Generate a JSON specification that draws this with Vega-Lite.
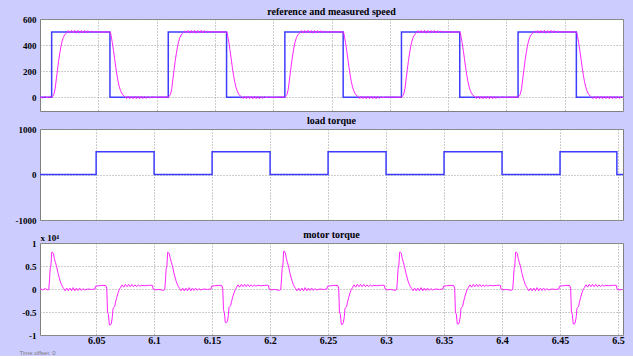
{
"$schema": "https://vega.github.io/schema/vega-lite/v6.json",
"background": "#ccccff",
"padding": {"left": 14, "top": 6, "right": 8, "bottom": 0},
"spacing": 3,
"config": {
  "font": "Liberation Serif",
  "view": {"stroke": "#808080", "strokeWidth": 1, "fill": "white"},
  "axis": {"domain": false, "ticks": false, "labelFont": "Liberation Serif", "labelFontWeight": "bold", "labelFontSize": 9, "labelColor": "#000000", "gridColor": "#9a9a9a", "gridDash": [1, 2], "gridOpacity": 1, "labelPadding": 4},
  "title": {"font": "Liberation Serif", "fontWeight": "bold", "fontSize": 10, "color": "#000000", "offset": 2}
},
"datasets": {
"speedRef": [{"t":6.0,"v":0},{"t":6.01,"v":500},{"t":6.06,"v":0},{"t":6.11,"v":500},{"t":6.16,"v":0},{"t":6.21,"v":500},{"t":6.26,"v":0},{"t":6.31,"v":500},{"t":6.36,"v":0},{"t":6.41,"v":500},{"t":6.46,"v":0},{"t":6.51,"v":0}],
"load": [{"t":6.0,"v":0},{"t":6.05,"v":500},{"t":6.1,"v":0},{"t":6.15,"v":500},{"t":6.2,"v":0},{"t":6.25,"v":500},{"t":6.3,"v":0},{"t":6.35,"v":500},{"t":6.4,"v":0},{"t":6.45,"v":500},{"t":6.499,"v":0},{"t":6.51,"v":0}],
"speedMeas": [
{"t":6.0,"v":3},{"t":6.002,"v":-6},{"t":6.004,"v":5},{"t":6.006,"v":-4},{"t":6.008,"v":2},
{"t":6.01,"v":1},{"t":6.0106,"v":4},{"t":6.0112,"v":12},{"t":6.012,"v":25},{"t":6.013,"v":65},{"t":6.014,"v":140},{"t":6.015,"v":210},{"t":6.016,"v":280},{"t":6.017,"v":340},{"t":6.018,"v":392},{"t":6.019,"v":430},{"t":6.02,"v":458},{"t":6.021,"v":476},{"t":6.022,"v":488},{"t":6.023,"v":495},{"t":6.0242,"v":510},{"t":6.0256,"v":492},{"t":6.027,"v":512},{"t":6.0284,"v":493},{"t":6.0298,"v":513},{"t":6.0312,"v":491},{"t":6.0326,"v":512},{"t":6.034,"v":492},{"t":6.0354,"v":511},{"t":6.0368,"v":493},{"t":6.0382,"v":512},{"t":6.0396,"v":492},{"t":6.041,"v":510},{"t":6.0424,"v":494},{"t":6.0438,"v":508},{"t":6.0455,"v":498},{"t":6.048,"v":503},{"t":6.052,"v":499},{"t":6.056,"v":501},{"t":6.06,"v":500},{"t":6.0605,"v":495},{"t":6.061,"v":470},{"t":6.062,"v":420},{"t":6.063,"v":360},{"t":6.064,"v":295},{"t":6.065,"v":230},{"t":6.066,"v":170},{"t":6.067,"v":120},{"t":6.068,"v":80},{"t":6.069,"v":52},{"t":6.07,"v":32},{"t":6.071,"v":18},{"t":6.072,"v":9},{"t":6.073,"v":3},{"t":6.0742,"v":-10},{"t":6.0756,"v":8},{"t":6.077,"v":-12},{"t":6.0784,"v":7},{"t":6.0798,"v":-12},{"t":6.0812,"v":8},{"t":6.0826,"v":-11},{"t":6.084,"v":7},{"t":6.0854,"v":-12},{"t":6.0868,"v":8},{"t":6.0882,"v":-11},{"t":6.0896,"v":7},{"t":6.091,"v":-10},{"t":6.0924,"v":5},{"t":6.094,"v":-5},{"t":6.096,"v":2},{"t":6.099,"v":-1},{"t":6.103,"v":1},{"t":6.107,"v":0},
{"t":6.11,"v":1},{"t":6.1106,"v":4},{"t":6.1112,"v":12},{"t":6.112,"v":25},{"t":6.113,"v":65},{"t":6.114,"v":140},{"t":6.115,"v":210},{"t":6.116,"v":280},{"t":6.117,"v":340},{"t":6.118,"v":392},{"t":6.119,"v":430},{"t":6.12,"v":458},{"t":6.121,"v":476},{"t":6.122,"v":488},{"t":6.123,"v":495},{"t":6.1242,"v":509},{"t":6.1256,"v":493},{"t":6.127,"v":511},{"t":6.1284,"v":491},{"t":6.1298,"v":512},{"t":6.1312,"v":492},{"t":6.1326,"v":513},{"t":6.134,"v":491},{"t":6.1354,"v":511},{"t":6.1368,"v":492},{"t":6.1382,"v":512},{"t":6.1396,"v":493},{"t":6.141,"v":511},{"t":6.1424,"v":493},{"t":6.1438,"v":507},{"t":6.1455,"v":499},{"t":6.148,"v":502},{"t":6.152,"v":500},{"t":6.156,"v":501},{"t":6.16,"v":500},{"t":6.1605,"v":494},{"t":6.161,"v":468},{"t":6.162,"v":418},{"t":6.163,"v":358},{"t":6.164,"v":293},{"t":6.165,"v":228},{"t":6.166,"v":168},{"t":6.167,"v":118},{"t":6.168,"v":79},{"t":6.169,"v":51},{"t":6.17,"v":31},{"t":6.171,"v":17},{"t":6.172,"v":8},{"t":6.173,"v":2},{"t":6.1742,"v":-11},{"t":6.1756,"v":7},{"t":6.177,"v":-12},{"t":6.1784,"v":8},{"t":6.1798,"v":-11},{"t":6.1812,"v":7},{"t":6.1826,"v":-12},{"t":6.184,"v":8},{"t":6.1854,"v":-11},{"t":6.1868,"v":7},{"t":6.1882,"v":-12},{"t":6.1896,"v":6},{"t":6.191,"v":-9},{"t":6.1924,"v":5},{"t":6.194,"v":-3},{"t":6.196,"v":1},{"t":6.199,"v":-1},{"t":6.203,"v":0},{"t":6.207,"v":1},
{"t":6.21,"v":1},{"t":6.2106,"v":4},{"t":6.2112,"v":12},{"t":6.212,"v":25},{"t":6.213,"v":65},{"t":6.214,"v":140},{"t":6.215,"v":210},{"t":6.216,"v":280},{"t":6.217,"v":340},{"t":6.218,"v":392},{"t":6.219,"v":430},{"t":6.22,"v":458},{"t":6.221,"v":476},{"t":6.222,"v":488},{"t":6.223,"v":495},{"t":6.2242,"v":511},{"t":6.2256,"v":492},{"t":6.227,"v":512},{"t":6.2284,"v":493},{"t":6.2298,"v":513},{"t":6.2312,"v":492},{"t":6.2326,"v":511},{"t":6.234,"v":491},{"t":6.2354,"v":512},{"t":6.2368,"v":492},{"t":6.2382,"v":511},{"t":6.2396,"v":493},{"t":6.241,"v":510},{"t":6.2424,"v":493},{"t":6.2438,"v":508},{"t":6.2455,"v":498},{"t":6.248,"v":502},{"t":6.252,"v":500},{"t":6.256,"v":502},{"t":6.26,"v":500},{"t":6.2605,"v":495},{"t":6.261,"v":470},{"t":6.262,"v":420},{"t":6.263,"v":360},{"t":6.264,"v":295},{"t":6.265,"v":230},{"t":6.266,"v":170},{"t":6.267,"v":120},{"t":6.268,"v":80},{"t":6.269,"v":52},{"t":6.27,"v":32},{"t":6.271,"v":18},{"t":6.272,"v":9},{"t":6.273,"v":3},{"t":6.2742,"v":-10},{"t":6.2756,"v":8},{"t":6.277,"v":-11},{"t":6.2784,"v":7},{"t":6.2798,"v":-12},{"t":6.2812,"v":8},{"t":6.2826,"v":-12},{"t":6.284,"v":7},{"t":6.2854,"v":-11},{"t":6.2868,"v":8},{"t":6.2882,"v":-12},{"t":6.2896,"v":7},{"t":6.291,"v":-9},{"t":6.2924,"v":4},{"t":6.294,"v":-4},{"t":6.296,"v":1},{"t":6.299,"v":0},{"t":6.303,"v":1},{"t":6.307,"v":-1},
{"t":6.31,"v":1},{"t":6.3106,"v":4},{"t":6.3112,"v":12},{"t":6.312,"v":25},{"t":6.313,"v":65},{"t":6.314,"v":140},{"t":6.315,"v":210},{"t":6.316,"v":280},{"t":6.317,"v":340},{"t":6.318,"v":392},{"t":6.319,"v":430},{"t":6.32,"v":458},{"t":6.321,"v":476},{"t":6.322,"v":488},{"t":6.323,"v":495},{"t":6.3242,"v":510},{"t":6.3256,"v":492},{"t":6.327,"v":512},{"t":6.3284,"v":493},{"t":6.3298,"v":513},{"t":6.3312,"v":491},{"t":6.3326,"v":512},{"t":6.334,"v":492},{"t":6.3354,"v":511},{"t":6.3368,"v":493},{"t":6.3382,"v":512},{"t":6.3396,"v":492},{"t":6.341,"v":510},{"t":6.3424,"v":494},{"t":6.3438,"v":508},{"t":6.3455,"v":498},{"t":6.348,"v":503},{"t":6.352,"v":499},{"t":6.356,"v":501},{"t":6.36,"v":500},{"t":6.3605,"v":495},{"t":6.361,"v":470},{"t":6.362,"v":420},{"t":6.363,"v":360},{"t":6.364,"v":295},{"t":6.365,"v":230},{"t":6.366,"v":170},{"t":6.367,"v":120},{"t":6.368,"v":80},{"t":6.369,"v":52},{"t":6.37,"v":32},{"t":6.371,"v":18},{"t":6.372,"v":9},{"t":6.373,"v":3},{"t":6.3742,"v":-10},{"t":6.3756,"v":8},{"t":6.377,"v":-12},{"t":6.3784,"v":7},{"t":6.3798,"v":-12},{"t":6.3812,"v":8},{"t":6.3826,"v":-11},{"t":6.384,"v":7},{"t":6.3854,"v":-12},{"t":6.3868,"v":8},{"t":6.3882,"v":-11},{"t":6.3896,"v":7},{"t":6.391,"v":-10},{"t":6.3924,"v":5},{"t":6.394,"v":-5},{"t":6.396,"v":2},{"t":6.399,"v":-1},{"t":6.403,"v":1},{"t":6.407,"v":0},
{"t":6.41,"v":1},{"t":6.4106,"v":4},{"t":6.4112,"v":12},{"t":6.412,"v":25},{"t":6.413,"v":65},{"t":6.414,"v":140},{"t":6.415,"v":210},{"t":6.416,"v":280},{"t":6.417,"v":340},{"t":6.418,"v":392},{"t":6.419,"v":430},{"t":6.42,"v":458},{"t":6.421,"v":476},{"t":6.422,"v":488},{"t":6.423,"v":495},{"t":6.4242,"v":509},{"t":6.4256,"v":493},{"t":6.427,"v":511},{"t":6.4284,"v":491},{"t":6.4298,"v":512},{"t":6.4312,"v":492},{"t":6.4326,"v":513},{"t":6.434,"v":491},{"t":6.4354,"v":511},{"t":6.4368,"v":492},{"t":6.4382,"v":512},{"t":6.4396,"v":493},{"t":6.441,"v":511},{"t":6.4424,"v":493},{"t":6.4438,"v":507},{"t":6.4455,"v":499},{"t":6.448,"v":502},{"t":6.452,"v":500},{"t":6.456,"v":501},{"t":6.46,"v":500},{"t":6.4605,"v":494},{"t":6.461,"v":468},{"t":6.462,"v":418},{"t":6.463,"v":358},{"t":6.464,"v":293},{"t":6.465,"v":228},{"t":6.466,"v":168},{"t":6.467,"v":118},{"t":6.468,"v":79},{"t":6.469,"v":51},{"t":6.47,"v":31},{"t":6.471,"v":17},{"t":6.472,"v":8},{"t":6.473,"v":2},{"t":6.4742,"v":-11},{"t":6.4756,"v":7},{"t":6.477,"v":-12},{"t":6.4784,"v":8},{"t":6.4798,"v":-11},{"t":6.4812,"v":7},{"t":6.4826,"v":-12},{"t":6.484,"v":8},{"t":6.4854,"v":-11},{"t":6.4868,"v":7},{"t":6.4882,"v":-12},{"t":6.4896,"v":7},{"t":6.491,"v":-11},{"t":6.4924,"v":7},{"t":6.494,"v":-10},{"t":6.4955,"v":6},{"t":6.497,"v":-9},{"t":6.4985,"v":6},{"t":6.5,"v":-5},{"t":6.503,"v":0}
],
"torque": [
{"t":6.0,"v":0.01},{"t":6.002,"v":0.01},{"t":6.004,"v":-0.02},{"t":6.006,"v":0.01},{"t":6.008,"v":-0.02},
{"t":6.0092,"v":-0.01},{"t":6.0098,"v":0.2},{"t":6.0104,"v":0.45},{"t":6.011,"v":0.5},{"t":6.0117,"v":0.8},{"t":6.0124,"v":0.8},{"t":6.0132,"v":0.77},{"t":6.014,"v":0.66},{"t":6.015,"v":0.57},{"t":6.016,"v":0.48},{"t":6.017,"v":0.36},{"t":6.018,"v":0.26},{"t":6.019,"v":0.17},{"t":6.02,"v":0.1},{"t":6.021,"v":0.05},{"t":6.022,"v":0.01},{"t":6.0232,"v":-0.04},{"t":6.0246,"v":0.02},{"t":6.026,"v":-0.04},{"t":6.0274,"v":0.02},{"t":6.0288,"v":-0.04},{"t":6.0302,"v":0.03},{"t":6.0316,"v":-0.04},{"t":6.033,"v":0.02},{"t":6.0344,"v":-0.03},{"t":6.0358,"v":0.02},{"t":6.0372,"v":-0.03},{"t":6.0386,"v":0.01},{"t":6.04,"v":-0.02},{"t":6.043,"v":0.0},{"t":6.046,"v":-0.01},{"t":6.049,"v":0.0},{"t":6.0495,"v":0.06},{"t":6.052,"v":0.07},{"t":6.056,"v":0.08},{"t":6.0585,"v":0.07},{"t":6.0592,"v":0.0},{"t":6.0598,"v":-0.5},{"t":6.0606,"v":-0.55},{"t":6.0614,"v":-0.78},{"t":6.0624,"v":-0.78},{"t":6.0632,"v":-0.74},{"t":6.064,"v":-0.6},{"t":6.0646,"v":-0.42},{"t":6.066,"v":-0.38},{"t":6.0668,"v":-0.28},{"t":6.0678,"v":-0.18},{"t":6.069,"v":-0.08},{"t":6.07,"v":-0.01},{"t":6.0712,"v":0.04},{"t":6.0724,"v":0.09},{"t":6.0738,"v":0.04},{"t":6.0752,"v":0.1},{"t":6.0766,"v":0.05},{"t":6.078,"v":0.1},{"t":6.0794,"v":0.05},{"t":6.0808,"v":0.1},{"t":6.0822,"v":0.05},{"t":6.0836,"v":0.09},{"t":6.085,"v":0.05},{"t":6.0864,"v":0.09},{"t":6.0878,"v":0.06},{"t":6.0892,"v":0.08},{"t":6.092,"v":0.07},{"t":6.095,"v":0.08},{"t":6.0985,"v":0.08},{"t":6.0992,"v":0.0},{"t":6.1,"v":-0.02},{"t":6.104,"v":-0.01},{"t":6.108,"v":-0.03},
{"t":6.1092,"v":-0.01},{"t":6.1098,"v":0.2},{"t":6.1104,"v":0.45},{"t":6.111,"v":0.5},{"t":6.1117,"v":0.8},{"t":6.1124,"v":0.79},{"t":6.1132,"v":0.76},{"t":6.114,"v":0.66},{"t":6.115,"v":0.57},{"t":6.116,"v":0.48},{"t":6.117,"v":0.36},{"t":6.118,"v":0.26},{"t":6.119,"v":0.17},{"t":6.12,"v":0.1},{"t":6.121,"v":0.05},{"t":6.122,"v":0.01},{"t":6.1232,"v":-0.04},{"t":6.1246,"v":0.02},{"t":6.126,"v":-0.04},{"t":6.1274,"v":0.02},{"t":6.1288,"v":-0.04},{"t":6.1302,"v":0.03},{"t":6.1316,"v":-0.04},{"t":6.133,"v":0.02},{"t":6.1344,"v":-0.03},{"t":6.1358,"v":0.02},{"t":6.1372,"v":-0.03},{"t":6.1386,"v":0.01},{"t":6.14,"v":-0.02},{"t":6.143,"v":0.0},{"t":6.146,"v":-0.01},{"t":6.149,"v":0.0},{"t":6.1495,"v":0.06},{"t":6.152,"v":0.07},{"t":6.156,"v":0.08},{"t":6.1585,"v":0.07},{"t":6.1592,"v":0.0},{"t":6.1598,"v":-0.45},{"t":6.1606,"v":-0.52},{"t":6.1614,"v":-0.73},{"t":6.1624,"v":-0.73},{"t":6.1632,"v":-0.7},{"t":6.164,"v":-0.58},{"t":6.1646,"v":-0.4},{"t":6.166,"v":-0.36},{"t":6.1668,"v":-0.27},{"t":6.1678,"v":-0.17},{"t":6.169,"v":-0.08},{"t":6.17,"v":-0.01},{"t":6.1712,"v":0.04},{"t":6.1724,"v":0.09},{"t":6.1738,"v":0.04},{"t":6.1752,"v":0.1},{"t":6.1766,"v":0.05},{"t":6.178,"v":0.1},{"t":6.1794,"v":0.05},{"t":6.1808,"v":0.1},{"t":6.1822,"v":0.05},{"t":6.1836,"v":0.09},{"t":6.185,"v":0.05},{"t":6.1864,"v":0.09},{"t":6.1878,"v":0.06},{"t":6.1892,"v":0.08},{"t":6.192,"v":0.07},{"t":6.195,"v":0.08},{"t":6.1985,"v":0.08},{"t":6.1992,"v":0.0},{"t":6.2,"v":-0.02},{"t":6.204,"v":-0.01},{"t":6.208,"v":-0.03},
{"t":6.2092,"v":-0.01},{"t":6.2098,"v":0.2},{"t":6.2104,"v":0.45},{"t":6.211,"v":0.5},{"t":6.2117,"v":0.82},{"t":6.2124,"v":0.82},{"t":6.2132,"v":0.78},{"t":6.214,"v":0.67},{"t":6.215,"v":0.57},{"t":6.216,"v":0.48},{"t":6.217,"v":0.36},{"t":6.218,"v":0.26},{"t":6.219,"v":0.17},{"t":6.22,"v":0.1},{"t":6.221,"v":0.05},{"t":6.222,"v":0.01},{"t":6.2232,"v":-0.04},{"t":6.2246,"v":0.02},{"t":6.226,"v":-0.04},{"t":6.2274,"v":0.02},{"t":6.2288,"v":-0.04},{"t":6.2302,"v":0.03},{"t":6.2316,"v":-0.04},{"t":6.233,"v":0.02},{"t":6.2344,"v":-0.03},{"t":6.2358,"v":0.02},{"t":6.2372,"v":-0.03},{"t":6.2386,"v":0.01},{"t":6.24,"v":-0.02},{"t":6.243,"v":0.0},{"t":6.246,"v":-0.01},{"t":6.249,"v":0.0},{"t":6.2495,"v":0.06},{"t":6.252,"v":0.07},{"t":6.256,"v":0.08},{"t":6.2585,"v":0.07},{"t":6.2592,"v":0.0},{"t":6.2598,"v":-0.5},{"t":6.2606,"v":-0.55},{"t":6.2614,"v":-0.77},{"t":6.2624,"v":-0.77},{"t":6.2632,"v":-0.73},{"t":6.264,"v":-0.6},{"t":6.2646,"v":-0.42},{"t":6.266,"v":-0.38},{"t":6.2668,"v":-0.28},{"t":6.2678,"v":-0.18},{"t":6.269,"v":-0.08},{"t":6.27,"v":-0.01},{"t":6.2712,"v":0.04},{"t":6.2724,"v":0.09},{"t":6.2738,"v":0.04},{"t":6.2752,"v":0.1},{"t":6.2766,"v":0.05},{"t":6.278,"v":0.1},{"t":6.2794,"v":0.05},{"t":6.2808,"v":0.1},{"t":6.2822,"v":0.05},{"t":6.2836,"v":0.09},{"t":6.285,"v":0.05},{"t":6.2864,"v":0.09},{"t":6.2878,"v":0.06},{"t":6.2892,"v":0.08},{"t":6.292,"v":0.07},{"t":6.295,"v":0.08},{"t":6.2985,"v":0.08},{"t":6.2992,"v":0.0},{"t":6.3,"v":-0.02},{"t":6.304,"v":-0.01},{"t":6.308,"v":-0.03},
{"t":6.3092,"v":-0.01},{"t":6.3098,"v":0.2},{"t":6.3104,"v":0.45},{"t":6.311,"v":0.5},{"t":6.3117,"v":0.8},{"t":6.3124,"v":0.8},{"t":6.3132,"v":0.77},{"t":6.314,"v":0.66},{"t":6.315,"v":0.57},{"t":6.316,"v":0.48},{"t":6.317,"v":0.36},{"t":6.318,"v":0.26},{"t":6.319,"v":0.17},{"t":6.32,"v":0.1},{"t":6.321,"v":0.05},{"t":6.322,"v":0.01},{"t":6.3232,"v":-0.04},{"t":6.3246,"v":0.02},{"t":6.326,"v":-0.04},{"t":6.3274,"v":0.02},{"t":6.3288,"v":-0.04},{"t":6.3302,"v":0.03},{"t":6.3316,"v":-0.04},{"t":6.333,"v":0.02},{"t":6.3344,"v":-0.03},{"t":6.3358,"v":0.02},{"t":6.3372,"v":-0.03},{"t":6.3386,"v":0.01},{"t":6.34,"v":-0.02},{"t":6.343,"v":0.0},{"t":6.346,"v":-0.01},{"t":6.349,"v":0.0},{"t":6.3495,"v":0.06},{"t":6.352,"v":0.07},{"t":6.356,"v":0.08},{"t":6.3585,"v":0.07},{"t":6.3592,"v":0.0},{"t":6.3598,"v":-0.5},{"t":6.3606,"v":-0.55},{"t":6.3614,"v":-0.76},{"t":6.3624,"v":-0.76},{"t":6.3632,"v":-0.72},{"t":6.364,"v":-0.6},{"t":6.3646,"v":-0.42},{"t":6.366,"v":-0.38},{"t":6.3668,"v":-0.28},{"t":6.3678,"v":-0.18},{"t":6.369,"v":-0.08},{"t":6.37,"v":-0.01},{"t":6.3712,"v":0.04},{"t":6.3724,"v":0.09},{"t":6.3738,"v":0.04},{"t":6.3752,"v":0.1},{"t":6.3766,"v":0.05},{"t":6.378,"v":0.1},{"t":6.3794,"v":0.05},{"t":6.3808,"v":0.1},{"t":6.3822,"v":0.05},{"t":6.3836,"v":0.09},{"t":6.385,"v":0.05},{"t":6.3864,"v":0.09},{"t":6.3878,"v":0.06},{"t":6.3892,"v":0.08},{"t":6.392,"v":0.07},{"t":6.395,"v":0.08},{"t":6.3985,"v":0.08},{"t":6.3992,"v":0.0},{"t":6.4,"v":-0.02},{"t":6.404,"v":-0.01},{"t":6.408,"v":-0.03},
{"t":6.4092,"v":-0.01},{"t":6.4098,"v":0.2},{"t":6.4104,"v":0.45},{"t":6.411,"v":0.5},{"t":6.4117,"v":0.8},{"t":6.4124,"v":0.8},{"t":6.4132,"v":0.77},{"t":6.414,"v":0.66},{"t":6.415,"v":0.57},{"t":6.416,"v":0.48},{"t":6.417,"v":0.36},{"t":6.418,"v":0.26},{"t":6.419,"v":0.17},{"t":6.42,"v":0.1},{"t":6.421,"v":0.05},{"t":6.422,"v":0.01},{"t":6.4232,"v":-0.04},{"t":6.4246,"v":0.02},{"t":6.426,"v":-0.04},{"t":6.4274,"v":0.02},{"t":6.4288,"v":-0.04},{"t":6.4302,"v":0.03},{"t":6.4316,"v":-0.04},{"t":6.433,"v":0.02},{"t":6.4344,"v":-0.03},{"t":6.4358,"v":0.02},{"t":6.4372,"v":-0.03},{"t":6.4386,"v":0.01},{"t":6.44,"v":-0.02},{"t":6.443,"v":0.0},{"t":6.446,"v":-0.01},{"t":6.449,"v":0.0},{"t":6.4495,"v":0.06},{"t":6.452,"v":0.07},{"t":6.456,"v":0.08},{"t":6.4585,"v":0.07},{"t":6.4592,"v":0.0},{"t":6.4598,"v":-0.5},{"t":6.4606,"v":-0.55},{"t":6.4614,"v":-0.76},{"t":6.4624,"v":-0.76},{"t":6.4632,"v":-0.72},{"t":6.464,"v":-0.6},{"t":6.4646,"v":-0.42},{"t":6.466,"v":-0.38},{"t":6.4668,"v":-0.28},{"t":6.4678,"v":-0.18},{"t":6.469,"v":-0.08},{"t":6.47,"v":-0.01},{"t":6.4712,"v":0.04},{"t":6.4724,"v":0.09},{"t":6.4738,"v":0.04},{"t":6.4752,"v":0.1},{"t":6.4766,"v":0.05},{"t":6.478,"v":0.1},{"t":6.4794,"v":0.05},{"t":6.4808,"v":0.1},{"t":6.4822,"v":0.05},{"t":6.4836,"v":0.09},{"t":6.485,"v":0.05},{"t":6.4864,"v":0.09},{"t":6.4878,"v":0.06},{"t":6.4892,"v":0.08},{"t":6.492,"v":0.07},{"t":6.495,"v":0.08},{"t":6.4985,"v":0.08},{"t":6.4992,"v":0.0},{"t":6.5,"v":-0.02},{"t":6.504,"v":-0.01}
]
},
"vconcat": [
{
  "title": {"text": "reference and measured speed", "offset": -1.5},
  "width": 583, "height": 92,
  "encoding": {
    "x": {"field": "t", "type": "quantitative", "scale": {"domain": [6.0, 6.5], "nice": false, "zero": false}, "axis": {"values": [6.05, 6.1, 6.15, 6.2, 6.25, 6.3, 6.35, 6.4, 6.45, 6.5], "labels": false, "title": null}},
    "y": {"field": "v", "type": "quantitative", "scale": {"domain": [-106, 600], "nice": false, "zero": false}, "axis": {"values": [0, 200, 400, 600], "title": null, "labelExpr": "'' + datum.value"}}
  },
  "layer": [
    {"data": {"name": "speedRef"}, "mark": {"type": "line", "interpolate": "step-after", "color": "#3d3dff", "strokeWidth": 1.5, "clip": true}},
    {"data": {"name": "speedMeas"}, "mark": {"type": "line", "color": "#ff22ff", "strokeWidth": 1, "clip": true}}
  ]
},
{
  "title": {"text": "load torque", "offset": -1},
  "width": 583, "height": 91,
  "data": {"name": "load"},
  "mark": {"type": "line", "interpolate": "step-after", "color": "#3d3dff", "strokeWidth": 1.5, "clip": true},
  "encoding": {
    "x": {"field": "t", "type": "quantitative", "scale": {"domain": [6.0016, 6.5043], "nice": false, "zero": false}, "axis": {"values": [6.05, 6.1, 6.15, 6.2, 6.25, 6.3, 6.35, 6.4, 6.45, 6.5], "labels": false, "title": null}},
    "y": {"field": "v", "type": "quantitative", "scale": {"domain": [-1000, 1000], "nice": false, "zero": false}, "axis": {"values": [-1000, 0, 1000], "title": null, "labelExpr": "'' + datum.value"}}
  }
},
{
  "title": {"text": "motor torque", "offset": -6.5},
  "width": 583, "height": 92,
  "data": {"name": "torque"},
  "mark": {"type": "line", "color": "#ff22ff", "strokeWidth": 1, "clip": true},
  "encoding": {
    "x": {"field": "t", "type": "quantitative", "scale": {"domain": [6.0016, 6.5043], "nice": false, "zero": false}, "axis": {"values": [6.05, 6.1, 6.15, 6.2, 6.25, 6.3, 6.35, 6.4, 6.45, 6.5], "labelFontSize": 10, "labelPadding": 0, "labelExpr": "'' + datum.value", "title": "Time offset:  0", "titleFont": "Liberation Sans", "titleFontSize": 6, "titleFontWeight": "normal", "titleColor": "#7a7a7a", "titleAlign": "left", "titleX": -21, "titleY": 17, "titleBaseline": "middle"}},
    "y": {"field": "v", "type": "quantitative", "scale": {"domain": [-1, 1], "nice": false, "zero": false}, "axis": {"values": [-1, -0.5, 0, 0.5, 1], "labelExpr": "'' + datum.value", "title": "x 10⁴", "titleAngle": 0, "titleAlign": "left", "titleX": 0, "titleY": -3, "titleBaseline": "alphabetic", "titleFont": "Liberation Serif", "titleFontWeight": "bold", "titleFontSize": 9}}
  }
}
]
}
